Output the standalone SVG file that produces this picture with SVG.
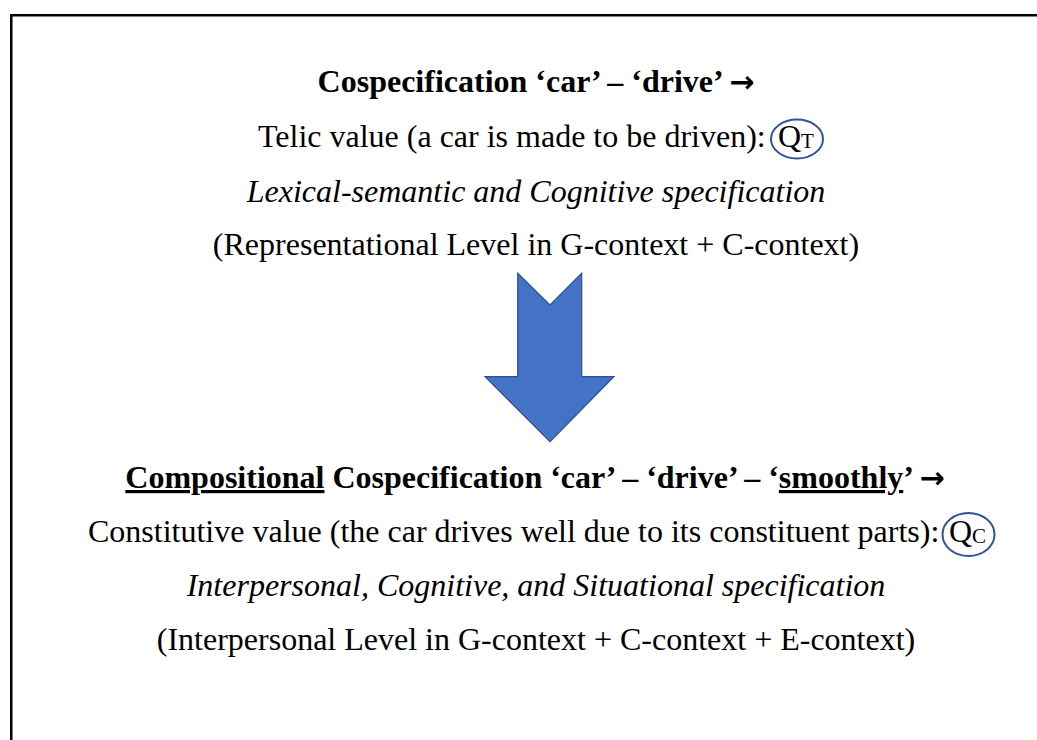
<svg xmlns="http://www.w3.org/2000/svg" width="1037" height="740" viewBox="0 0 1037 740">
<style>
  .t { font-family: "Liberation Serif", "Times New Roman", serif; font-size: 32px; fill: #000; }
  .b { font-weight: bold; }
  .i { font-style: italic; }
  .sub { font-size: 21px; }
  .arr { font-family: "DejaVu Sans", sans-serif; font-weight: bold; font-size: 30px; }
  .ring { fill: none; stroke: #2F5597; stroke-width: 2; }
  .u { text-decoration: underline; }
</style>
<rect x="0" y="0" width="1037" height="740" fill="#fff"/>
<rect x="11.25" y="15.25" width="1100" height="800" fill="none" stroke="#000" stroke-width="2.5"/>

<g id="top-block" font-family="Liberation Serif, serif">
  <text class="t b" x="536" y="92" text-anchor="middle">Cospecification ‘car’ – ‘drive’ <tspan class="arr">→</tspan></text>
  <text class="t" x="258" y="147">Telic value (a car is made to be driven):</text>
  <g id="qt">
    <ellipse class="ring" cx="797" cy="139" rx="26" ry="19.5"/>
    <text class="t" x="778" y="147">Q<tspan class="sub" dy="1">T</tspan></text>
  </g>
  <text class="t i" x="536" y="202" text-anchor="middle">Lexical-semantic and Cognitive specification</text>
  <text class="t" x="536" y="255" text-anchor="middle">(Representational Level in G-context + C-context)</text>
</g>

<g id="connectors">
  <path d="M517.7,273.3 L550,305 L581.7,273.3 L581.7,376.7 L614,376.7 L550,441.7 L485,376.7 L517.7,376.7 Z" fill="#4472C4" stroke="#2F528F" stroke-width="1.2" stroke-linejoin="miter"/>
</g>

<g id="bottom-block" font-family="Liberation Serif, serif">
  <text class="t b" x="535" y="488" text-anchor="middle"><tspan class="u">Compositional</tspan> Cospecification ‘car’ – ‘drive’ – ‘<tspan class="u">smoothly</tspan>’ <tspan class="arr">→</tspan></text>
  <text class="t" x="88" y="542">Constitutive value (the car drives well due to its constituent parts):</text>
  <g id="qc">
    <ellipse class="ring" cx="968.5" cy="534.5" rx="26" ry="21.5"/>
    <text class="t" x="949" y="542">Q<tspan class="sub" dy="1">C</tspan></text>
  </g>
  <text class="t i" x="536" y="596" text-anchor="middle">Interpersonal, Cognitive, and Situational specification</text>
  <text class="t" x="536" y="650" text-anchor="middle">(Interpersonal Level in G-context + C-context + E-context)</text>
</g>
</svg>
